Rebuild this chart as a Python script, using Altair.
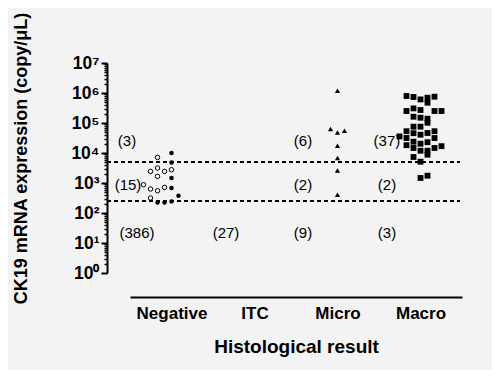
import altair as alt
import pandas as pd

# ---------------- data ----------------
categories = ["Negative", "ITC", "Micro", "Macro"]
cutoffs = [250, 5000]

# Negative group: open circles
neg_open_values = [7130, 2440, 3160, 2440, 2770, 1660, 877, 631, 553, 713, 316]
neg_open_cols = [-2, -3, -2, -1, 0, -2, -4, -3, -2, -1, -3]
# Negative group: filled circles
neg_filled_values = [10000, 4860, 1470, 681, 378, 225, 225, 244]
neg_filled_cols = [0, 0, 0, 0, 1, -2, -1, 0]
# Micro group: triangles
micro_values = [1190000, 63100, 48600, 55300, 17500, 6810, 2630, 407]
micro_cols = [0, -1, 0, 1, 0, 0, 0, 0]
# Macro group: squares
macro_values = [794000, 736000, 612000, 697000, 475000, 753000, 251000, 307000,
                271000, 251000, 251000, 162000, 150000, 139000, 102000, 75300,
                75300, 53300, 45700, 40700, 46500, 53300, 35700, 31600, 31600,
                23800, 20400, 22900, 18200, 14700, 11900, 11900, 8770, 14700,
                16900, 7360, 5130, 1470, 1750]
macro_cols = [-2, -1, 0, 1, 1, 2, -2, -1, 0, 2, 3, -1, 0, 1, 1, -1, 0, -2, -1, 0,
              1, 2, -3, -2, 2, -1, 0, 1, -2, -1, 0, 1, 1, 2, 3, -1, 0, 0, 1]

# count annotations
count_text = ["(3)", "(15)", "(386)", "(27)", "(6)", "(2)", "(9)", "(37)", "(2)", "(3)"]
count_group = [1, 1, 1, 2, 3, 3, 3, 4, 4, 4]
count_level = [24500, 850, 22, 22, 24500, 850, 22, 24500, 850, 22]
count_shift = [-0.536, -0.524, -0.416, -0.343, -0.416, -0.416, -0.416, -0.404, -0.404, -0.404]

# ---------------- build tables ----------------
COL = 0.0843  # horizontal jitter step (x units)

def pts(group, vals, cols, shape):
    return pd.DataFrame({
        "x": [group + c * COL for c in cols],
        "value": vals,
        "shape": shape,
    })

open_df = pts(1, neg_open_values, neg_open_cols, "circle")
filled_df = pd.concat([
    pts(1, neg_filled_values, neg_filled_cols, "circle"),
    pts(3, micro_values, micro_cols, "triangle-up"),
    pts(4, macro_values, macro_cols, "square"),
])
count_df = pd.DataFrame({
    "x": [g + s for g, s in zip(count_group, count_shift)],
    "value": count_level,
    "label": count_text,
})
cut_df = pd.DataFrame({"value": cutoffs})

FONT = "Liberation Sans"
W, H = 332, 210

xscale = alt.Scale(domain=[0.5, 4.5], nice=False, zero=False)
yscale = alt.Scale(type="log", domain=[1, 1e7], nice=False)

major_test = "abs(log(datum.value)/LN10 - round(log(datum.value)/LN10)) < 0.001"
supers = ["⁰", "¹", "²", "³", "⁴", "⁵", "⁶", "⁷"]
sup_arr = "[" + ",".join("'%s'" % s for s in supers) + "]"
ylabel_expr = f"{major_test} ? '10' + {sup_arr}[round(log(datum.value)/LN10)] : ''"

yvals = []
for k in range(0, 7):
    for m in range(1, 10):
        yvals.append(m * 10 ** k)
yvals.append(10 ** 7)

cat_arr = "[" + ",".join("'%s'" % c for c in categories) + "]"

xaxis = alt.Axis(
    values=[1, 2, 3, 4], labelExpr=f"{cat_arr}[datum.value-1]",
    ticks=False, grid=False, domainColor="black", domainWidth=2, offset=24,
    labelFont=FONT, labelFontSize=17, labelFontWeight="bold", labelColor="black",
    labelPadding=8, title="Histological result", titleFont=FONT, titleFontSize=19,
    titleFontWeight="bold", titleColor="black", titlePadding=16,
)
yaxis = alt.Axis(
    values=yvals, labelExpr=ylabel_expr, labelOverlap=False,
    grid=False, domainColor="black", domainWidth=2, offset=23,
    tickColor="black",
    tickSize={"condition": {"test": major_test, "value": 6}, "value": 3},
    tickWidth={"condition": {"test": major_test, "value": 2}, "value": 1.5},
    labelFont=FONT, labelFontSize=17.5, labelFontWeight="bold", labelColor="black",
    labelPadding=2,
    title="CK19 mRNA expression (copy/μL)", titleFont=FONT, titleFontSize=18,
    titleFontWeight="bold", titleColor="black",
    titleX=-86, titleY=95, titleAlign="center", titleBaseline="middle", titleAngle=-90,
)

shape_scale = alt.Scale(domain=["circle", "triangle-up", "square"],
                        range=["circle", "triangle-up", "square"])

open_pts = alt.Chart(open_df).mark_point(
    filled=False, color="black", strokeWidth=1, size=20, opacity=1
).encode(
    x=alt.X("x:Q", scale=xscale, axis=xaxis),
    y=alt.Y("value:Q", scale=yscale, axis=yaxis),
)

filled_pts = alt.Chart(filled_df).mark_point(
    filled=True, color="black", opacity=1
).encode(
    x=alt.X("x:Q", scale=xscale),
    y=alt.Y("value:Q", scale=yscale),
    shape=alt.Shape("shape:N", scale=shape_scale, legend=None),
    size=alt.Size("shape:N", scale=alt.Scale(domain=["circle", "triangle-up", "square"],
                                             range=[20, 34, 27]), legend=None),
)

rules = alt.Chart(cut_df).mark_rule(
    color="black", strokeWidth=2, strokeDash=[4, 3]
).encode(
    y=alt.Y("value:Q", scale=yscale),
    x=alt.value(-23), x2=alt.value(W - 2),
)

texts = alt.Chart(count_df).mark_text(
    font=FONT, fontSize=15, color="black", align="center", baseline="middle"
).encode(
    x=alt.X("x:Q", scale=xscale),
    y=alt.Y("value:Q", scale=yscale),
    text="label:N",
)

chart = alt.layer(rules, open_pts, filled_pts, texts).properties(
    width=W, height=H,
    autosize=alt.AutoSizeParams(type="none"),
    padding={"left": 122, "top": 55, "right": 30, "bottom": 97},
    background="#f3f3f3",
).configure_view(stroke=None)

chart.save("out.html", embed_options={"renderer": "svg", "actions": False})
